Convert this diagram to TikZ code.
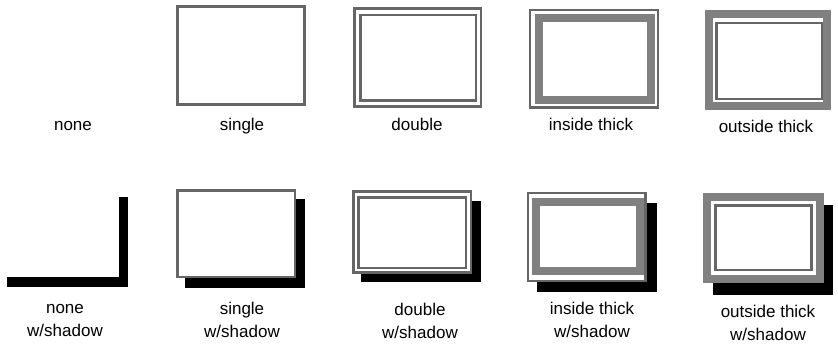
\documentclass[tikz,border=0pt]{standalone}
\usepackage{fontspec}
\setmainfont{Liberation Sans}
\definecolor{framegray}{gray}{0.4}
\definecolor{bandgray}{gray}{0.5}
\begin{document}
\begin{tikzpicture}[x=1pt,y=-1pt,
  thin frame/.style={draw=framegray,line width=2.5pt,fill=white},
  band/.style={draw=bandgray,line width=8pt},
  shadow/.style={fill=black},
  lbl/.style={anchor=base,align=center,inner sep=0pt,font=\fontsize{17}{23.5}\selectfont}]
\useasboundingbox (0,0) rectangle (838,352);
% ---------- top row ----------
% single
\draw[thin frame,line width=3pt] (177.5,6.5) rectangle (304.5,104.5);
% double
\draw[thin frame] (354.5,8.5) rectangle (481,106.5);
\draw[thin frame] (360.5,15) rectangle (476,100.5);
% inside thick
\draw[thin frame] (530,10) rectangle (658,107.5);
\draw[band] (539,18.5) rectangle (651,100);
% outside thick
\draw[band] (709,14) rectangle (826.5,106.5);
\draw[thin frame] (716.5,23) rectangle (822,99);
% labels
\node[lbl] (t1) at (73,131) {none};
\node[lbl] (t2) at (242,131) {single};
\node[lbl] (t3) at (417,131) {double};
\node[lbl] (t4) at (591,131) {inside thick};
\node[lbl] (t5) at (766,133) {outside thick};
% ---------- bottom row ----------
% none w/shadow
\fill[shadow] (119,197) rectangle (128,287);
\fill[shadow] (7,277) rectangle (128,287);
% single w/shadow
\fill[shadow] (185,199) rectangle (305,288);
\draw[thin frame] (177.5,190.5) rectangle (295,277);
% double w/shadow
\fill[shadow] (361,201) rectangle (481,282);
\draw[thin frame] (353.5,191.5) rectangle (471,272.5);
\draw[thin frame] (358.5,197.5) rectangle (466,268);
% inside thick w/shadow
\fill[shadow] (537,203) rectangle (657,292);
\draw[thin frame] (528,193) rectangle (645.5,281);
\draw[band] (536,202.5) rectangle (640,271);
% outside thick w/shadow
\fill[shadow] (713,205) rectangle (833,295);
\fill[white] (703,193.5) rectangle (824,283);
\draw[band] (707,197.5) rectangle (820,279);
\draw[thin frame] (715.5,205.5) rectangle (811.5,270);
% labels (anchor at baseline of second line)
\node[lbl] (b1) at (65,337) {none\\w/shadow};
\node[lbl] (b2) at (242,338) {single\\w/shadow};
\node[lbl] (b3) at (420,339) {double\\w/shadow};
\node[lbl] (b4) at (592,338) {inside thick\\w/shadow};
\node[lbl] (b5) at (768,341) {outside thick\\w/shadow};
\end{tikzpicture}
\end{document}
